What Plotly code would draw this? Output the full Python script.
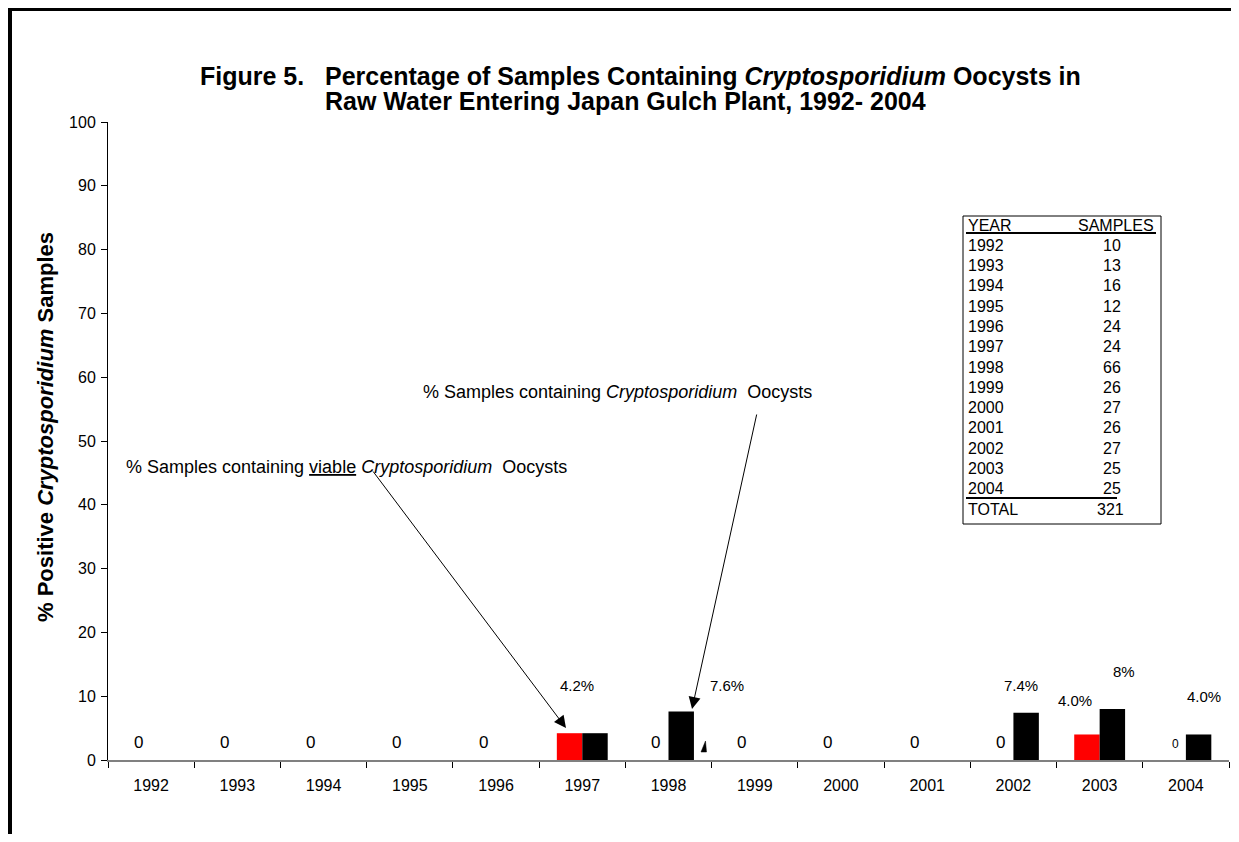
import plotly.graph_objects as go

# Data
years = ['1992', '1993', '1994', '1995', '1996', '1997', '1998',
         '1999', '2000', '2001', '2002', '2003', '2004']
viable_pct = [0, 0, 0, 0, 0, 4.2, 0, 0, 0, 0, 0, 4.0, 0]
total_pct = [0, 0, 0, 0, 0, 4.2, 7.6, 0, 0, 0, 7.4, 8, 4.0]
samples = [10, 13, 16, 12, 24, 24, 66, 26, 27, 26, 27, 25, 25]
total_samples = 321
y_ticks = list(range(0, 101, 10))

# percent labels placed by hand in the original (year, text, x offset px, y value)
pct_labels = [
    ('1997', '4.2%', -5, 11.6),
    ('1998', '7.6%', 58, 11.75),
    ('2002', '7.4%', 8, 11.6),
    ('2003', '4.0%', -25, 9.25),
    ('2003', '8%', 24, 13.8),
    ('2004', '4.0%', 18, 10.0),
]

# page body has an 8px margin, so the figure is shifted by OFF
OFF = 8
W, H = 1239 - 2 * OFF, 842 - 2 * OFF
L, R, T, B = 108, 1229, 122, 760   # plot area in page pixels
FONT = 'Liberation Sans, Arial, sans-serif'


def px(x):
    return (x - L) / (R - L)


def py(y):
    return (B - y) / (B - T)


def text_ann(x, y, text, size, xanchor='center', **kw):
    d = dict(x=px(x), y=py(y), xref='paper', yref='paper', xanchor=xanchor,
             yanchor='middle', text=text, showarrow=False,
             font=dict(size=size, color='black', family=FONT))
    d.update(kw)
    return d


fig = go.Figure()

fig.add_trace(go.Bar(x=years, y=viable_pct, name='viable',
                     marker=dict(color='#FF0000', line=dict(width=0))))
fig.add_trace(go.Bar(x=years, y=total_pct, name='total',
                     marker=dict(color='#000000', line=dict(width=0))))

ann = []

# "0" labels for the viable series
for i, v in enumerate(viable_pct):
    if v == 0:
        last = (i == len(years) - 1)
        ann.append(dict(x=i, y=2.8 if not last else 2.5, xref='x', yref='y',
                        xanchor='center', yanchor='middle',
                        xshift=-13 if not last else -10, text='0', showarrow=False,
                        font=dict(size=17 if not last else 12, color='black', family=FONT)))

for yr, txt, dx, yv in pct_labels:
    ann.append(dict(x=years.index(yr), y=yv, xref='x', yref='y', xshift=dx, text=txt,
                    xanchor='center', yanchor='middle',
                    showarrow=False, font=dict(size=15, color='black', family=FONT)))

# title
ann.append(text_ann(640, 76,
                    '<b>Figure 5.&nbsp;&nbsp; Percentage of Samples Containing <i>Cryptosporidium</i> Oocysts in</b>',
                    25))
ann.append(text_ann(625, 101, '<b>Raw Water Entering Japan Gulch Plant, 1992- 2004</b>', 25))

# y axis title
ann.append(text_ann(45, 427, '<b>% Positive <i>Cryptosporidium</i> Samples</b>', 22,
                    textangle=-90))

# callouts
ann.append(text_ann(124, 467,
                    '% Samples containing <u>viable</u> <i>Cryptosporidium</i>  Oocysts',
                    18, xanchor='left'))
ann.append(text_ann(421, 392, '% Samples containing <i>Cryptosporidium</i>  Oocysts',
                    18, xanchor='left'))
ann.append(dict(x=px(566), y=py(728), xref='paper', yref='paper', text='',
                showarrow=True, ax=372 - 566, ay=470 - 728, arrowhead=2,
                arrowsize=2.4, arrowwidth=1, arrowcolor='black'))
ann.append(dict(x=px(692), y=py(709), xref='paper', yref='paper', text='',
                showarrow=True, ax=757 - 692, ay=413 - 709, arrowhead=2,
                arrowsize=2.4, arrowwidth=1, arrowcolor='black'))

# sample table
tx0, tx1, ty0, ty1 = 963, 1161, 216, 524
row_h = 20.3
ann.append(text_ann(966, 225, 'YEAR', 16, xanchor='left'))
ann.append(text_ann(1156, 225, 'SAMPLES', 16, xanchor='right'))
for i, (yr, n) in enumerate(zip(years, samples)):
    yy = 225 + row_h * (i + 1)
    ann.append(text_ann(966, yy, yr, 16, xanchor='left'))
    ann.append(text_ann(1112, yy, str(n), 16))
yy = 225 + row_h * (len(years) + 1)
ann.append(text_ann(966, yy, 'TOTAL', 16, xanchor='left'))
ann.append(text_ann(1110, yy, str(total_samples), 16))

shapes = [
    # outer frame
    dict(type='rect', xref='paper', yref='paper', x0=px(10), x1=px(1260),
         y0=py(870), y1=py(9), line=dict(color='black', width=4)),
    # table box and rules
    dict(type='rect', xref='paper', yref='paper', x0=px(tx0), x1=px(tx1),
         y0=py(ty1), y1=py(ty0), line=dict(color='black', width=1)),
    dict(type='line', xref='paper', yref='paper', x0=px(966), x1=px(1156),
         y0=py(233), y1=py(233), line=dict(color='black', width=2)),
    dict(type='line', xref='paper', yref='paper', x0=px(966), x1=px(1117),
         y0=py(498), y1=py(498), line=dict(color='black', width=2)),
    # stray arrowhead fragment near 1998
    dict(type='path', xref='paper', yref='paper',
         path='M %f,%f L %f,%f L %f,%f Z' % (px(701), py(752), px(705.5), py(741),
                                             px(706.5), py(752)),
         fillcolor='black', line=dict(color='black', width=0.5)),
]

fig.update_layout(
    width=W, height=H,
    margin=dict(l=L - OFF, r=W - (R - OFF), t=T - OFF, b=H - (B - OFF), pad=0),
    paper_bgcolor='white', plot_bgcolor='white',
    barmode='group', bargap=0.41, bargroupgap=0,
    showlegend=False,
    font=dict(family=FONT, size=16, color='black'),
    annotations=ann, shapes=shapes,
    xaxis=dict(type='category', categoryorder='array', categoryarray=years,
               showline=True, linecolor='#808080', linewidth=1.5,
               ticks='outside', tickson='boundaries', ticklen=6, tickcolor='black',
               tickfont=dict(size=16), tickangle=0, ticklabelstandoff=10,
               showgrid=False, zeroline=False),
    yaxis=dict(range=[0, 100], tickvals=y_ticks, showline=True, linecolor='black',
               linewidth=1, ticks='outside', ticklen=6, tickcolor='black',
               tickfont=dict(size=16), ticklabelstandoff=2,
               showgrid=False, zeroline=False),
)

fig.write_html("out.html")
